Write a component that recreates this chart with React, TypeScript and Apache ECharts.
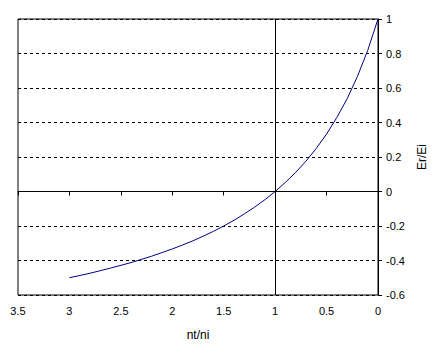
import React, { useEffect, useRef } from "react";
import * as echarts from "echarts";

const nRatio = [0, 0.1, 0.2, 0.3, 0.4, 0.5, 0.6, 0.7, 0.8, 0.9, 1.0, 1.1, 1.2, 1.3, 1.4, 1.5, 1.6, 1.7, 1.8, 1.9, 2.0, 2.2, 2.4, 2.6, 2.8, 3.0];
const erEi = [1, 0.818, 0.667, 0.538, 0.429, 0.333, 0.25, 0.176, 0.111, 0.053, 0, -0.048, -0.091, -0.13, -0.167, -0.2, -0.231, -0.259, -0.286, -0.31, -0.333, -0.375, -0.412, -0.444, -0.474, -0.5];

const FONT = "Liberation Sans";

export default function App() {
  const ref = useRef<HTMLDivElement>(null);
  useEffect(() => {
    document.body.style.margin = "0";
    const chart = echarts.init(ref.current!, null, { renderer: "svg" });
    const fmt = (v: number) => String(parseFloat(v.toFixed(2)));
    chart.setOption({
      animation: false,
      backgroundColor: "#fff",
      grid: {
        left: 18,
        right: 58,
        top: 19,
        bottom: 59,
        show: true,
        borderColor: "#000",
        borderWidth: 1,
      },
      xAxis: {
        type: "value",
        inverse: true,
        min: 0,
        max: 3.5,
        interval: 0.5,
        name: "nt/ni",
        nameLocation: "middle",
        nameGap: 34,
        nameTextStyle: { fontFamily: FONT, fontSize: 12, color: "#000" },
        axisLine: { show: true, lineStyle: { color: "#000", width: 1 } },
        axisTick: { show: true, inside: false, length: 4, lineStyle: { color: "#000" } },
        axisLabel: { fontFamily: FONT, fontSize: 11, color: "#000", margin: 10, formatter: fmt },
        splitLine: { show: false },
      },
      yAxis: {
        type: "value",
        position: "right",
        min: -0.6,
        max: 1,
        interval: 0.2,
        name: "Er/Ei",
        nameLocation: "middle",
        nameRotate: 90,
        nameGap: 34,
        nameTextStyle: { fontFamily: FONT, fontSize: 12, color: "#000" },
        axisLine: { show: true, lineStyle: { color: "#000", width: 1 } },
        axisTick: { show: true, inside: false, length: 4, lineStyle: { color: "#000" } },
        axisLabel: { fontFamily: FONT, fontSize: 11, color: "#000", margin: 8, formatter: fmt },
        splitLine: { show: true, lineStyle: { color: "#000", type: [3, 3], width: 1 } },
      },
      series: [
        {
          type: "line",
          data: nRatio.map((n, i) => [n, erEi[i]]),
          showSymbol: false,
          symbol: "none",
          lineStyle: { color: "#000080", width: 1 },
          markLine: {
            silent: true,
            symbol: "none",
            label: { show: false },
            lineStyle: { color: "#000", type: "solid", width: 1 },
            data: [{ xAxis: 1 }, { yAxis: 0 }],
          },
          z: 3,
        },
      ],
    });
    return () => chart.dispose();
  }, []);
  return <div ref={ref} style={{ width: 436, height: 354 }} />;
}
